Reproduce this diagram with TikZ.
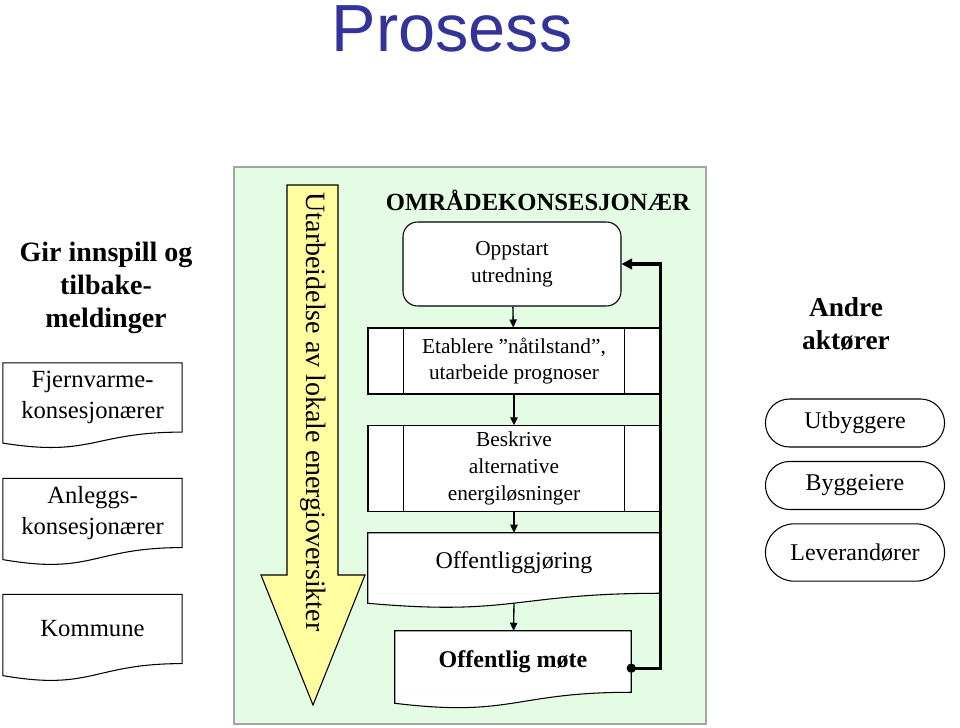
\documentclass[tikz,border=0pt]{standalone}
\usepackage{fontspec}
\setmainfont{Liberation Serif}
\newfontfamily\titlefont{Liberation Sans}
\usetikzlibrary{shapes.misc, arrows.meta, calc, positioning}

\definecolor{titleblue}{RGB}{51,51,153}
\definecolor{panelgreen}{RGB}{228,251,228}
\definecolor{panelgrey}{RGB}{165,165,165}
\definecolor{arrowyellow}{RGB}{255,253,160}

% wavy bottom of a document box: node name, drop of the left end
\newcommand{\docwave}[2]{%
  \fill[white] (#1.south west) -- (#1.south east) .. controls (#1.south) and ($(#1.south)+(0,2.3*#2)$) .. ($(#1.south west)+(0,#2)$) -- cycle;
  \draw[line width=0.8pt] (#1.north west) -- (#1.north east) -- (#1.south east) .. controls (#1.south) and ($(#1.south)+(0,2.3*#2)$) .. ($(#1.south west)+(0,#2)$) -- cycle;
}

\tikzset{
  docbox/.style={fill=white, align=center, minimum width=134pt, minimum height=51.5pt, font=\fontsize{18.5}{23}\selectfont},
  flowbox/.style={draw, line width=0.8pt, fill=white, align=center, minimum width=219pt, font=\fontsize{16}{20}\selectfont},
  actor/.style={draw, line width=0.8pt, rounded rectangle, fill=white, minimum width=141pt, minimum height=36pt, font=\fontsize{18}{22}\selectfont},
  flowarrow/.style={-{Triangle[length=6pt,width=5.5pt]}, line width=1pt},
}

\begin{document}
\begin{tikzpicture}[x=0.75pt, y=-0.75pt]
\useasboundingbox (0,0) rectangle (960,728);

\node (title) [anchor=base, font=\titlefont\fontsize{50}{60}\selectfont, text=titleblue] at (452,51) {Prosess};

% green panel and the long arrow
\draw[fill=panelgreen, draw=panelgrey, line width=1pt] (234,167) rectangle (706,724);
\draw[line width=0.8pt, fill=arrowyellow] (287,185) -- (338,185) -- (338,575) -- (365,575) -- (313,705) -- (261,575) -- (287,575) -- cycle;
\node (utarb) [rotate=-90, font=\fontsize{21}{25}\selectfont] at (313,412) {Utarbeidelse av lokale energioversikter};

\node (omr) [font=\bfseries\fontsize{18.5}{22}\selectfont] at (538,200) {OMRÅDEKONSESJONÆR};

\node (oppstart) [flowbox, rounded corners=11pt, minimum width=163.5pt, minimum height=63pt] at (512,264) {Oppstart\\utredning};
\node (etab) [flowbox, minimum height=49.5pt] at (514,361) {Etablere ''nåtilstand'',\\utarbeide prognoser};
\node (beskr) [flowbox, minimum height=64pt] at (514,468.5) {Beskrive\\alternative\\energiløsninger};
\foreach \n in {etab, beskr} {
  \draw[line width=0.8pt] ([xshift=27pt]\n.north west) -- ([xshift=27pt]\n.south west);
  \draw[line width=0.8pt] ([xshift=-27pt]\n.north east) -- ([xshift=-27pt]\n.south east);
}
\node (offl) [docbox, minimum width=219pt, minimum height=45pt, font=\fontsize{18}{22}\selectfont] at (514,563) {Offentliggjøring};
\docwave{offl}{10}
\node (mote) [docbox, minimum width=177pt, minimum height=45.75pt, font=\bfseries\fontsize{18}{22}\selectfont] at (513,661.5) {Offentlig møte};
\docwave{mote}{11}

\draw[flowarrow] (oppstart) -- (etab);
\draw[flowarrow] (etab) -- (beskr);
\draw[flowarrow] (beskr) -- (offl);
\draw[flowarrow] ([yshift=-7.5pt]offl.south) -- (mote);

% feedback loop
\coordinate (fbstart) at ([yshift=-5pt]mote.east);
\draw[line width=2.5pt, -{Triangle[length=8pt,width=8pt]}] (fbstart) -| (etab.east) |- (oppstart.east);
\fill (fbstart) circle (3.5pt);

% left column
\node (gir) [align=center, font=\bfseries\fontsize{21}{25}\selectfont] at (106,288) {Gir innspill og\\tilbake-\\meldinger};
\node (fjern) [docbox] at (92.5,397.5) {Fjernvarme-\\konsesjonærer};
\docwave{fjern}{11}
\node (anlegg) [docbox] at (92.5,513) {Anleggs-\\konsesjonærer};
\docwave{anlegg}{12}
\node (kommune) [docbox] at (92.5,629) {Kommune};
\docwave{kommune}{12}

% right column
\node (andre) [align=center, font=\bfseries\fontsize{20.5}{25}\selectfont] at (846,324) {Andre\\aktører};
\node (utb) [actor] at (855,423) {Utbyggere};
\node (bygg) [actor] at (855,485.5) {Byggeiere};
\node (lev) [actor, minimum height=43pt] at (855,552.5) {Leverandører};
\end{tikzpicture}
\end{document}
